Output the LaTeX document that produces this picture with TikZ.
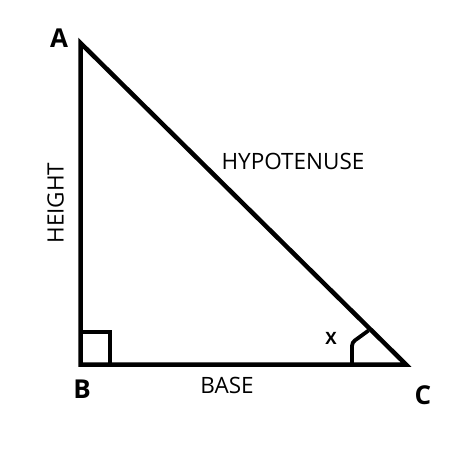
\documentclass[tikz,border=0pt]{standalone}
\usepackage{fontspec}
\setmainfont{Open Sans}
\begin{document}
\begin{tikzpicture}[x=1pt,y=-1pt,
  side/.style={line width=4.5pt, line join=miter},
  vlabel/.style={font=\fontsize{26}{26}\selectfont\bfseries, inner sep=0pt},
  slabel/.style={font=\fontsize{22.5}{22.5}\selectfont, inner sep=0pt},
  xlabel/.style={font=\fontsize{17}{17}\selectfont\bfseries, inner sep=0pt}]
\useasboundingbox (0,0) rectangle (450,450);
\coordinate (A) at (80.5,43);
\coordinate (B) at (80.5,364.5);
\coordinate (C) at (406,364.5);
\draw[side] (A) -- (B) -- (C) -- cycle;
\draw[line width=3.6pt] (80.5,332) -- (110,332) -- (110,364.5);
\draw[line width=3.8pt] (352,364.5) -- (352,346) to[out=90,in=220] (361,336) -- (368.5,330.5);
\node[vlabel] (la) at (59,38) {A};
\node[vlabel] (lb) at (82,389) {B};
\node[vlabel] (lc) at (423,395) {C};
\node[xlabel] (lx) at (331,338) {X};
\node[slabel] (hyp) at (293,161) {HYPOTENUSE};
\node[slabel] (base) at (227,385) {BASE};
\node[slabel, rotate=90] (ht) at (55.5,203) {HEIGHT};
\end{tikzpicture}
\end{document}
